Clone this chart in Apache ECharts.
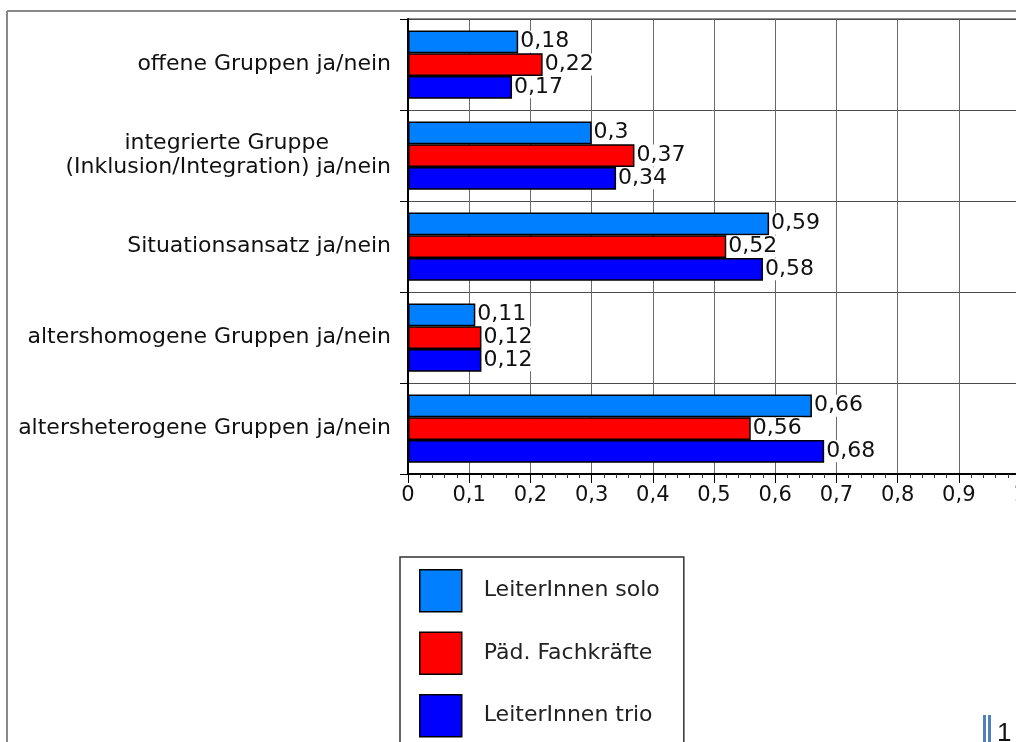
<!DOCTYPE html>
<html>
<head>
<meta charset="utf-8">
<script src="https://cdn.jsdelivr.net/npm/echarts@6/dist/echarts.min.js"></script>
<style>html,body{margin:0;padding:0;background:#fff;}#c{width:1016px;height:742px;}</style>
</head>
<body>
<div id="c"></div>
<script>
const categories = ['offene Gruppen ja/nein', 'integrierte Gruppe\n(Inklusion/Integration) ja/nein', 'Situationsansatz ja/nein', 'altershomogene Gruppen ja/nein', 'altersheterogene Gruppen ja/nein'];
const seriesNames = ['LeiterInnen solo', 'Päd. Fachkräfte', 'LeiterInnen trio'];
const solo = [0.18, 0.3, 0.59, 0.11, 0.66];
const fach = [0.22, 0.37, 0.52, 0.12, 0.56];
const trio = [0.17, 0.34, 0.58, 0.12, 0.68];
const xTicks = [0, 0.1, 0.2, 0.3, 0.4, 0.5, 0.6, 0.7, 0.8, 0.9, 1];

const FONT = '"DejaVu Sans", "Liberation Sans", Arial, sans-serif';
const comma = v => String(+v.toFixed(2)).replace('.', ',');

function mk(name, data, color) {
  return {
    name: name, type: 'bar', data: data,
    barGap: '0%', barCategoryGap: '25%',
    itemStyle: { color: color, borderColor: '#000', borderWidth: 1.5 },
    label: {
      show: true, position: 'right', distance: 1,
      formatter: p => comma(p.value),
      color: '#111', fontFamily: FONT, fontSize: 22,
      backgroundColor: '#fff', padding: [0, 1, 0, 1]
    }
  };
}

const chart = echarts.init(document.getElementById('c'), null, { renderer: 'canvas' });
chart.setOption({
  animation: false,
  backgroundColor: '#fff',
  grid: { left: 408, top: 19, width: 612, height: 455, show: true, borderColor: '#222', borderWidth: 1, containLabel: false, outerBoundsMode: 'none' },
  xAxis: {
    type: 'value', min: 0, max: 1, interval: 0.1,
    axisLine: { show: true, onZero: false, lineStyle: { color: '#000', width: 2 } },
    axisTick: { show: true, length: 9, lineStyle: { color: '#000' } },
    minorTick: { show: true, splitNumber: 5, length: 4, lineStyle: { color: '#333' } },
    splitLine: { show: true, lineStyle: { color: '#6a6a6a', width: 1 } },
    axisLabel: {
      color: '#111', fontFamily: FONT, fontSize: 21, margin: 11,
      formatter: v => { const t = xTicks.find(x => Math.abs(x - v) < 1e-9); return comma(t === undefined ? v : t); }
    }
  },
  yAxis: {
    type: 'category', data: categories, inverse: true,
    axisLine: { show: true, lineStyle: { color: '#000', width: 2 } },
    axisTick: { show: true, length: 8, lineStyle: { color: '#000' } },
    splitLine: { show: true, lineStyle: { color: '#4a4a4a', width: 1 } },
    axisLabel: {
      color: '#111', fontFamily: FONT, fontSize: 22, margin: 17, lineHeight: 24,
      formatter: v => {
        const parts = v.split('\n');
        if (parts.length === 1) return v;
        return '{a|' + parts[0] + '}\n{b|' + parts[1] + '}';
      },
      rich: {
        a: { fontFamily: FONT, fontSize: 22, color: '#111', lineHeight: 24, padding: [0, 62, 0, 0] },
        b: { fontFamily: FONT, fontSize: 22, color: '#111', lineHeight: 24 }
      }
    }
  },
  legend: {
    orient: 'vertical', left: 400, top: 557, height: 400,
    padding: [12, 24, 12, 19],
    itemWidth: 42, itemHeight: 42, itemGap: 19,
    icon: 'rect',
    borderColor: '#333', borderWidth: 1.5,
    itemStyle: { borderColor: '#000', borderWidth: 1.5 },
    textStyle: { color: '#222', fontFamily: FONT, fontSize: 22, padding: [0, 0, 0, 17] },
    data: seriesNames
  },
  graphic: [
    { type: 'line', shape: { x1: 7, y1: 11, x2: 1016, y2: 11 }, style: { stroke: '#888', lineWidth: 2 }, silent: true },
    { type: 'line', shape: { x1: 7, y1: 11, x2: 7, y2: 742 }, style: { stroke: '#888', lineWidth: 2 }, silent: true },
    { type: 'rect', shape: { x: 983, y: 715, width: 3, height: 27 }, style: { fill: '#4F81BD' }, silent: true },
    { type: 'rect', shape: { x: 988, y: 715, width: 3, height: 27 }, style: { fill: '#4F81BD' }, silent: true },
    { type: 'text', x: 997, y: 721, style: { text: '1', fontFamily: '"Liberation Sans", Arial, sans-serif', fontSize: 26, fill: '#111' }, silent: true }
  ],
  series: [
    mk(seriesNames[0], solo, '#0080FF'),
    mk(seriesNames[1], fach, '#FF0000'),
    mk(seriesNames[2], trio, '#0000FF')
  ]
});
</script>
</body>
</html>
